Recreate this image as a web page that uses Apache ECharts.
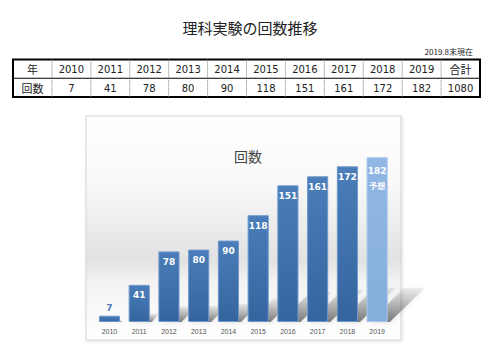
<!DOCTYPE html>
<html><head><meta charset="utf-8">
<script src="https://cdn.jsdelivr.net/npm/echarts@6/dist/echarts.min.js"></script>
<style>html,body{margin:0;padding:0;background:#fff}#c{width:500px;height:356px}</style>
</head><body><div id="c"></div>
<script>
const pageTitle = '理科実験の回数推移';
const asOfNote = '2019.8末現在';
const chartTitle = '回数';
const years = ['2010','2011','2012','2013','2014','2015','2016','2017','2018','2019'];
const counts = [7, 41, 78, 80, 90, 118, 151, 161, 172, 182];
const totalLabel = '合計';
const totalCount = 1080;
const rowHeaders = ['年', '回数'];
const forecastYear = '2019';
const forecastNote = '予想';

const tableTop = [rowHeaders[0], ...years, totalLabel];
const tableBottom = [rowHeaders[1], ...counts.map(String), String(totalCount)];
const tableData = [];
tableTop.forEach((t, c) => { tableData.push([c, 0, t]); tableData.push([c, 1, tableBottom[c]]); });

const chart = echarts.init(document.getElementById('c'), null, {renderer: 'svg'});
const CJK = '"Noto Sans CJK JP", "DejaVu Sans", sans-serif';

const barData = counts.map((v, i) => {
  if (years[i] === forecastYear) {
    return {value: v, itemStyle: {color: new echarts.graphic.LinearGradient(0,0,0,1,[{offset:0,color:'#90b7e4'},{offset:1,color:'#86aedd'}]), borderColor: '#a9c6ea'},
      label: {formatter: '{a|{c}}\n{b|' + forecastNote + '}'}};
  }
  if (v < 20) {
    return {value: v, label: {position: 'top', distance: 3, color: '#4a7cb8'}};
  }
  return v;
});

chart.setOption({
  animation: false,
  title: [
    {text: pageTitle, left: 'center', top: 15, padding: 5, textStyle: {fontFamily: CJK, fontSize: 15, fontWeight: 'normal', color: '#222'}},
    {text: asOfNote, right: 22, top: 42, padding: 5, textStyle: {fontFamily: CJK, fontSize: 8, fontWeight: 'normal', color: '#222'}},
    {text: chartTitle, left: 243, textAlign: 'center', top: 144, padding: 5, textStyle: {fontFamily: CJK, fontSize: 14, fontWeight: 'normal', color: '#444'}}
  ],
  graphic: [{
    type: 'rect', z: -5, silent: true,
    shape: {x: 86, y: 116, width: 315, height: 224},
    style: {
      fill: new echarts.graphic.LinearGradient(0,0,0,1,[
        {offset:0, color:'#ffffff'},
        {offset:0.3, color:'#f9f9f9'},
        {offset:0.64, color:'#e2e2e2'},
        {offset:0.74, color:'#f3f3f3'},
        {offset:1, color:'#ffffff'}
      ]),
      stroke: '#d4d4d4', lineWidth: 1,
      shadowColor: 'rgba(0,0,0,0.12)', shadowBlur: 3, shadowOffsetX: 1, shadowOffsetY: 1
    }
  }],
  grid: [
    {left: 94.6, right: 108, top: 141, bottom: 34},
    {left: 13, right: 20, top: 59.5, height: 37.5, show: true, borderColor: '#000', borderWidth: 2, backgroundColor: '#fff'}
  ],
  xAxis: [
    {type: 'category', gridIndex: 0, data: years, axisLine: {show: false}, axisTick: {show: false},
     axisLabel: {color: '#555', fontSize: 7, fontFamily: '"Liberation Sans", Arial, sans-serif', margin: 6}},
    {type: 'category', gridIndex: 1, data: tableTop.map((_, i) => i), show: false}
  ],
  yAxis: [
    {type: 'value', gridIndex: 0, min: 0, max: 200, show: false},
    {type: 'category', gridIndex: 1, data: [0, 1], inverse: true, show: false}
  ],
  series: [
    {
      type: 'custom', xAxisIndex: 0, yAxisIndex: 0, z: 1, silent: true,
      data: counts.map((v, i) => [i, v]),
      renderItem: function (params, api) {
        const i = api.value(0), v = api.value(1);
        const base = api.coord([i, 0]);
        const top = api.coord([i, v]);
        const w = api.size([1, 0])[0] * 0.71;
        const h = Math.min((base[1] - top[1]) * 0.22, 34);
        const x0 = base[0] - w / 2, x1 = base[0] + w / 2;
        const dx = h * 1.1;
        return {
          type: 'polygon',
          shape: {points: [[x0 + 3, base[1]], [x1 + 2, base[1]], [x1 + dx, base[1] - h], [x0 + dx, base[1] - h]]},
          style: {
            fill: new echarts.graphic.LinearGradient(0,1,0,0,[{offset:0,color:'rgba(50,50,50,0.6)'},{offset:1,color:'rgba(110,110,110,0.1)'}]),
            shadowBlur: 4, shadowColor: 'rgba(0,0,0,0.25)'
          }
        };
      }
    },
    {
      type: 'bar', xAxisIndex: 0, yAxisIndex: 0, z: 3, barWidth: '71%',
      data: barData,
      itemStyle: {
        color: new echarts.graphic.LinearGradient(0,0,0,1,[{offset:0,color:'#4a7db9'},{offset:1,color:'#34659f'}]),
        borderColor: '#6f98cb', borderWidth: 1
      },
      label: {
        show: true, position: 'insideTop', distance: 6, color: '#fff', fontWeight: 'bold', fontSize: 9,
        fontFamily: '"DejaVu Sans", sans-serif',
        rich: {
          a: {color: '#fff', fontWeight: 'bold', fontSize: 9, fontFamily: '"DejaVu Sans", sans-serif', lineHeight: 15},
          b: {color: '#fff', fontWeight: 'bold', fontSize: 8, fontFamily: CJK, lineHeight: 15}
        }
      }
    },
    {
      type: 'custom', xAxisIndex: 1, yAxisIndex: 1, silent: true, z: 5,
      data: tableData,
      encode: {x: 0, y: 1},
      renderItem: function (params, api) {
        const c = api.value(0), r = api.value(1);
        const pt = api.coord([c, r]);
        const sz = api.size([1, 1]);
        const txt = tableData[params.dataIndex][2];
        const isCjk = /[^\x00-\x7f]/.test(txt);
        const children = [{
          type: 'text',
          style: {text: txt, x: pt[0], y: pt[1] + 0.5, align: 'center', verticalAlign: 'middle',
                  fill: '#222', fontSize: isCjk ? 11 : 10, fontFamily: isCjk ? CJK : '"DejaVu Sans", sans-serif'}
        }];
        if (c > 0) {
          children.push({type: 'line', shape: {x1: pt[0] - sz[0]/2, y1: pt[1] - sz[1]/2, x2: pt[0] - sz[0]/2, y2: pt[1] + sz[1]/2},
            style: {stroke: '#777', lineWidth: 1, lineDash: [1, 1]}});
        }
        if (r > 0) {
          children.push({type: 'line', shape: {x1: pt[0] - sz[0]/2, y1: pt[1] - sz[1]/2, x2: pt[0] + sz[0]/2, y2: pt[1] - sz[1]/2},
            style: {stroke: '#000', lineWidth: 1}});
        }
        return {type: 'group', children: children};
      }
    }
  ]
});
</script></body></html>
